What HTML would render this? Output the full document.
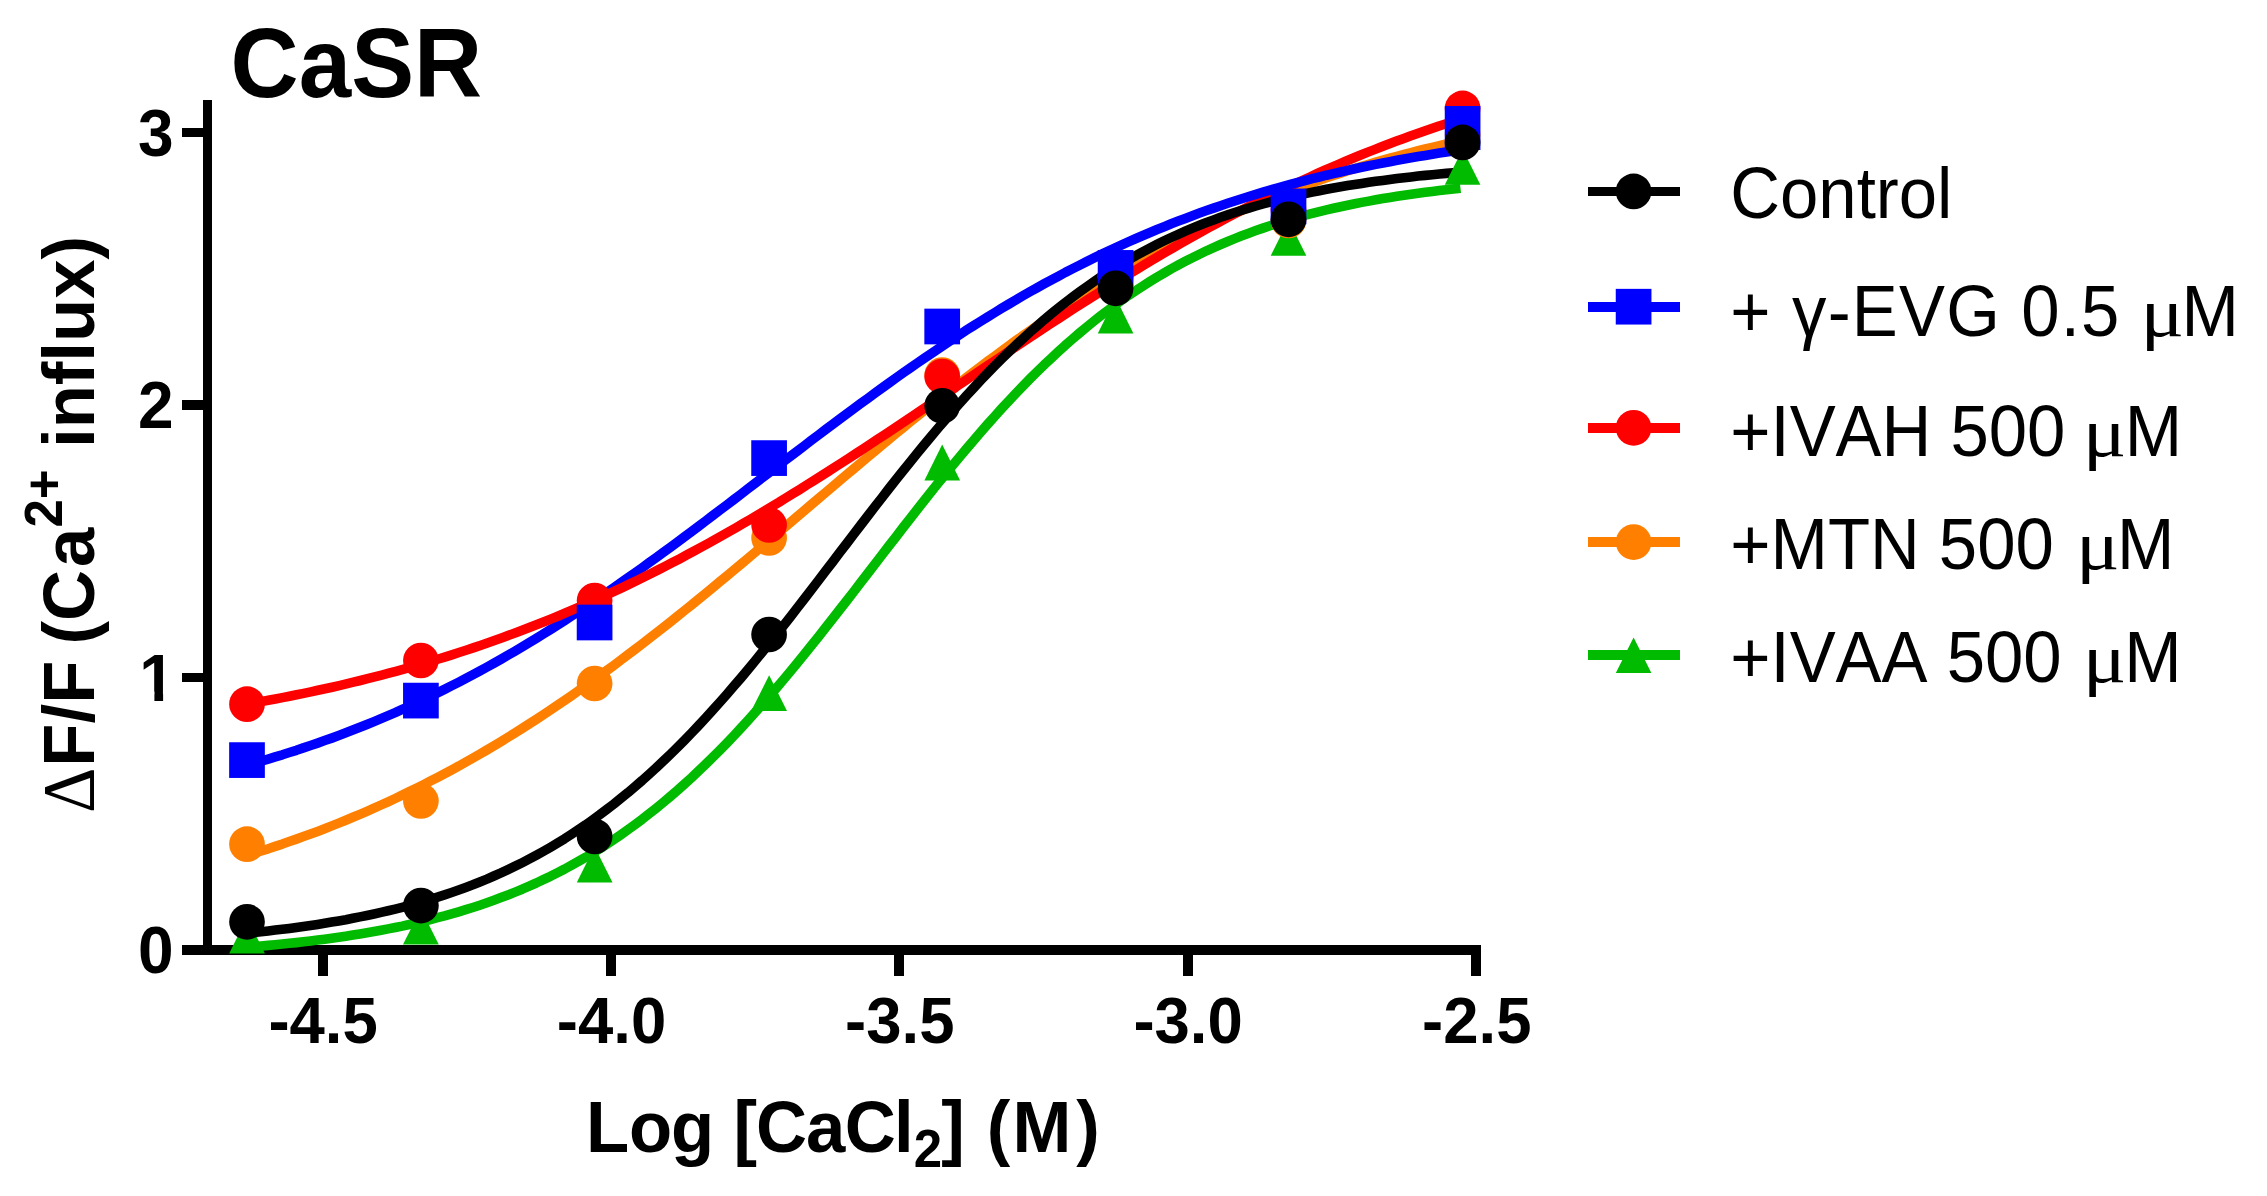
<!DOCTYPE html>
<html lang="en"><head><meta charset="utf-8"><title>CaSR</title>
<style>html,body{margin:0;padding:0;background:#fff}body{width:2267px;height:1196px;overflow:hidden}svg{display:block}</style>
</head><body>
<svg width="2267" height="1196" viewBox="0 0 2267 1196">
<rect width="2267" height="1196" fill="#fff"/>
<g fill="#000" shape-rendering="crispEdges">
<rect x="203" y="100" width="9.4" height="855"/>
<rect x="182" y="945" width="1299" height="10"/>
<rect x="182" y="127.9" width="22" height="9.4"/>
<rect x="182" y="400.4" width="22" height="9.4"/>
<rect x="182" y="672.8" width="22" height="9.4"/>
<rect x="317.7" y="950" width="9.8" height="26"/>
<rect x="606.1" y="950" width="9.8" height="26"/>
<rect x="894.4" y="950" width="9.8" height="26"/>
<rect x="1182.7" y="950" width="9.8" height="26"/>
<rect x="1471.4" y="950" width="9.8" height="26"/>
</g>
<g fill="none" stroke-width="9.6" stroke-linejoin="round">
<path stroke="#00bb00" d="M247.0,947.2 L254.1,946.6 L261.1,946.0 L268.2,945.4 L275.2,944.7 L282.3,944.0 L289.3,943.3 L296.4,942.6 L303.4,941.8 L310.5,940.9 L317.6,940.1 L324.6,939.2 L331.7,938.2 L338.7,937.2 L345.8,936.2 L352.8,935.1 L359.9,934.0 L366.9,932.8 L374.0,931.6 L381.0,930.3 L388.1,928.9 L395.2,927.5 L402.2,926.1 L409.3,924.5 L416.3,922.9 L423.4,921.3 L430.4,919.5 L437.5,917.7 L444.5,915.9 L451.6,913.9 L458.7,911.8 L465.7,909.7 L472.8,907.5 L479.8,905.2 L486.9,902.8 L493.9,900.3 L501.0,897.6 L508.0,894.9 L515.1,892.1 L522.2,889.2 L529.2,886.1 L536.3,883.0 L543.3,879.7 L550.4,876.3 L557.4,872.7 L564.5,869.1 L571.5,865.3 L578.6,861.3 L585.7,857.3 L592.7,853.0 L599.8,848.7 L606.8,844.2 L613.9,839.5 L620.9,834.7 L628.0,829.7 L635.0,824.6 L642.1,819.3 L649.1,813.8 L656.2,808.2 L663.3,802.4 L670.3,796.5 L677.4,790.4 L684.4,784.1 L691.5,777.7 L698.5,771.1 L705.6,764.3 L712.6,757.4 L719.7,750.3 L726.8,743.1 L733.8,735.7 L740.9,728.1 L747.9,720.4 L755.0,712.6 L762.0,704.7 L769.1,696.6 L776.1,688.3 L783.2,680.0 L790.3,671.5 L797.3,663.0 L804.4,654.3 L811.4,645.5 L818.5,636.7 L825.5,627.8 L832.6,618.8 L839.6,609.8 L846.7,600.7 L853.8,591.6 L860.8,582.4 L867.9,573.3 L874.9,564.1 L882.0,554.9 L889.0,545.8 L896.1,536.7 L903.1,527.5 L910.2,518.5 L917.2,509.5 L924.3,500.5 L931.4,491.6 L938.4,482.8 L945.5,474.1 L952.5,465.5 L959.6,457.0 L966.6,448.6 L973.7,440.3 L980.7,432.1 L987.8,424.0 L994.9,416.1 L1001.9,408.3 L1009.0,400.7 L1016.0,393.2 L1023.1,385.9 L1030.1,378.7 L1037.2,371.7 L1044.2,364.8 L1051.3,358.2 L1058.4,351.6 L1065.4,345.2 L1072.5,339.0 L1079.5,333.0 L1086.6,327.1 L1093.6,321.4 L1100.7,315.8 L1107.7,310.5 L1114.8,305.2 L1121.8,300.2 L1128.9,295.2 L1136.0,290.5 L1143.0,285.9 L1150.1,281.4 L1157.1,277.1 L1164.2,273.0 L1171.2,268.9 L1178.3,265.0 L1185.3,261.3 L1192.4,257.7 L1199.5,254.2 L1206.5,250.8 L1213.6,247.6 L1220.6,244.5 L1227.7,241.5 L1234.7,238.6 L1241.8,235.8 L1248.8,233.2 L1255.9,230.6 L1263.0,228.1 L1270.0,225.8 L1277.1,223.5 L1284.1,221.3 L1291.2,219.2 L1298.2,217.2 L1305.3,215.2 L1312.3,213.4 L1319.4,211.6 L1326.5,209.9 L1333.5,208.3 L1340.6,206.7 L1347.6,205.2 L1354.7,203.8 L1361.7,202.4 L1368.8,201.1 L1375.8,199.8 L1382.9,198.6 L1389.9,197.4 L1397.0,196.3 L1404.1,195.2 L1411.1,194.2 L1418.2,193.3 L1425.2,192.3 L1432.3,191.4 L1439.3,190.6 L1446.4,189.8 L1453.4,189.0 L1460.5,188.2"/>
<path stroke="#ff8000" d="M247.0,855.4 L254.1,853.3 L261.1,851.0 L268.2,848.8 L275.2,846.4 L282.3,844.1 L289.3,841.6 L296.4,839.1 L303.4,836.6 L310.5,834.0 L317.6,831.4 L324.6,828.7 L331.7,825.9 L338.7,823.1 L345.8,820.2 L352.8,817.3 L359.9,814.3 L366.9,811.3 L374.0,808.2 L381.0,805.0 L388.1,801.8 L395.2,798.5 L402.2,795.1 L409.3,791.7 L416.3,788.2 L423.4,784.7 L430.4,781.1 L437.5,777.4 L444.5,773.7 L451.6,769.9 L458.7,766.1 L465.7,762.1 L472.8,758.1 L479.8,754.1 L486.9,750.0 L493.9,745.8 L501.0,741.6 L508.0,737.2 L515.1,732.9 L522.2,728.4 L529.2,723.9 L536.3,719.4 L543.3,714.8 L550.4,710.1 L557.4,705.3 L564.5,700.5 L571.5,695.7 L578.6,690.7 L585.7,685.8 L592.7,680.7 L599.8,675.6 L606.8,670.5 L613.9,665.3 L620.9,660.0 L628.0,654.7 L635.0,649.4 L642.1,644.0 L649.1,638.5 L656.2,633.0 L663.3,627.5 L670.3,621.9 L677.4,616.3 L684.4,610.6 L691.5,605.0 L698.5,599.2 L705.6,593.5 L712.6,587.7 L719.7,581.8 L726.8,576.0 L733.8,570.1 L740.9,564.2 L747.9,558.3 L755.0,552.4 L762.0,546.4 L769.1,540.5 L776.1,534.5 L783.2,528.5 L790.3,522.5 L797.3,516.5 L804.4,510.5 L811.4,504.5 L818.5,498.5 L825.5,492.6 L832.6,486.6 L839.6,480.6 L846.7,474.6 L853.8,468.7 L860.8,462.8 L867.9,456.9 L874.9,451.0 L882.0,445.1 L889.0,439.3 L896.1,433.4 L903.1,427.7 L910.2,421.9 L917.2,416.2 L924.3,410.5 L931.4,404.9 L938.4,399.2 L945.5,393.7 L952.5,388.1 L959.6,382.7 L966.6,377.2 L973.7,371.8 L980.7,366.5 L987.8,361.2 L994.9,356.0 L1001.9,350.8 L1009.0,345.6 L1016.0,340.5 L1023.1,335.5 L1030.1,330.6 L1037.2,325.6 L1044.2,320.8 L1051.3,316.0 L1058.4,311.3 L1065.4,306.6 L1072.5,302.0 L1079.5,297.4 L1086.6,293.0 L1093.6,288.5 L1100.7,284.2 L1107.7,279.9 L1114.8,275.7 L1121.8,271.5 L1128.9,267.4 L1136.0,263.4 L1143.0,259.4 L1150.1,255.5 L1157.1,251.6 L1164.2,247.8 L1171.2,244.1 L1178.3,240.5 L1185.3,236.9 L1192.4,233.4 L1199.5,229.9 L1206.5,226.5 L1213.6,223.2 L1220.6,219.9 L1227.7,216.7 L1234.7,213.5 L1241.8,210.4 L1248.8,207.4 L1255.9,204.4 L1263.0,201.5 L1270.0,198.6 L1277.1,195.8 L1284.1,193.1 L1291.2,190.4 L1298.2,187.8 L1305.3,185.2 L1312.3,182.7 L1319.4,180.2 L1326.5,177.8 L1333.5,175.4 L1340.6,173.1 L1347.6,170.8 L1354.7,168.6 L1361.7,166.4 L1368.8,164.3 L1375.8,162.2 L1382.9,160.2 L1389.9,158.2 L1397.0,156.3 L1404.1,154.4 L1411.1,152.6 L1418.2,150.7 L1425.2,149.0 L1432.3,147.3 L1439.3,145.6 L1446.4,143.9 L1453.4,142.3 L1460.5,140.8"/>
<path stroke="#ff0000" d="M944.0,395.0 L951.2,390.1 L958.3,385.3 L965.5,380.5 L972.7,375.6 L979.9,370.8 L987.0,366.0 L994.2,361.2 L1001.4,356.4 L1008.6,351.6 L1015.7,346.8 L1022.9,342.0 L1030.1,337.3 L1037.3,332.5 L1044.4,327.8 L1051.6,323.1 L1058.8,318.4 L1066.0,313.8 L1073.1,309.1 L1080.3,304.5 L1087.5,299.9 L1094.6,295.4 L1101.8,290.9 L1109.0,286.4 L1116.2,281.9 L1123.3,277.5 L1130.5,273.1 L1137.7,268.8 L1144.9,264.4 L1152.0,260.2 L1159.2,255.9 L1166.4,251.7 L1173.6,247.5 L1180.7,243.4 L1187.9,239.3 L1195.1,235.3 L1202.2,231.3 L1209.4,227.4 L1216.6,223.5 L1223.8,219.6 L1230.9,215.8 L1238.1,212.0 L1245.3,208.3 L1252.5,204.6 L1259.6,201.0 L1266.8,197.4 L1274.0,193.9 L1281.2,190.4 L1288.3,187.0 L1295.5,183.6 L1302.7,180.3 L1309.9,177.0 L1317.0,173.7 L1324.2,170.5 L1331.4,167.4 L1338.5,164.3 L1345.7,161.3 L1352.9,158.3 L1360.1,155.3 L1367.2,152.4 L1374.4,149.6 L1381.6,146.8 L1388.8,144.0 L1395.9,141.3 L1403.1,138.7 L1410.3,136.0 L1417.5,133.5 L1424.6,131.0 L1431.8,128.5 L1439.0,126.0 L1446.2,123.7 L1453.3,121.3 L1460.5,119.0"/>
<path stroke="#0000ff" d="M247.0,765.2 L254.1,763.2 L261.1,761.2 L268.2,759.1 L275.2,756.9 L282.3,754.8 L289.3,752.5 L296.4,750.3 L303.4,747.9 L310.5,745.5 L317.6,743.1 L324.6,740.6 L331.7,738.1 L338.7,735.5 L345.8,732.8 L352.8,730.1 L359.9,727.3 L366.9,724.5 L374.0,721.6 L381.0,718.6 L388.1,715.6 L395.2,712.6 L402.2,709.4 L409.3,706.3 L416.3,703.0 L423.4,699.7 L430.4,696.3 L437.5,692.9 L444.5,689.4 L451.6,685.8 L458.7,682.2 L465.7,678.5 L472.8,674.8 L479.8,671.0 L486.9,667.1 L493.9,663.2 L501.0,659.2 L508.0,655.2 L515.1,651.1 L522.2,646.9 L529.2,642.7 L536.3,638.4 L543.3,634.0 L550.4,629.6 L557.4,625.2 L564.5,620.7 L571.5,616.1 L578.6,611.5 L585.7,606.8 L592.7,602.1 L599.8,597.3 L606.8,592.5 L613.9,587.6 L620.9,582.7 L628.0,577.8 L635.0,572.8 L642.1,567.8 L649.1,562.7 L656.2,557.6 L663.3,552.4 L670.3,547.3 L677.4,542.1 L684.4,536.8 L691.5,531.6 L698.5,526.3 L705.6,521.0 L712.6,515.7 L719.7,510.3 L726.8,505.0 L733.8,499.6 L740.9,494.2 L747.9,488.8 L755.0,483.4 L762.0,478.0 L769.1,472.6 L776.1,467.2 L783.2,461.8 L790.3,456.4 L797.3,451.1 L804.4,445.7 L811.4,440.3 L818.5,435.0 L825.5,429.7 L832.6,424.4 L839.6,419.1 L846.7,413.8 L853.8,408.6 L860.8,403.4 L867.9,398.3 L874.9,393.1 L882.0,388.0 L889.0,383.0 L896.1,377.9 L903.1,372.9 L910.2,368.0 L917.2,363.1 L924.3,358.2 L931.4,353.4 L938.4,348.7 L945.5,344.0 L952.5,339.3 L959.6,334.7 L966.6,330.1 L973.7,325.6 L980.7,321.2 L987.8,316.8 L994.9,312.5 L1001.9,308.2 L1009.0,304.0 L1016.0,299.8 L1023.1,295.7 L1030.1,291.7 L1037.2,287.7 L1044.2,283.8 L1051.3,280.0 L1058.4,276.2 L1065.4,272.4 L1072.5,268.8 L1079.5,265.2 L1086.6,261.6 L1093.6,258.1 L1100.7,254.7 L1107.7,251.4 L1114.8,248.1 L1121.8,244.8 L1128.9,241.6 L1136.0,238.5 L1143.0,235.5 L1150.1,232.5 L1157.1,229.5 L1164.2,226.7 L1171.2,223.8 L1178.3,221.1 L1185.3,218.4 L1192.4,215.7 L1199.5,213.1 L1206.5,210.6 L1213.6,208.1 L1220.6,205.7 L1227.7,203.3 L1234.7,201.0 L1241.8,198.7 L1248.8,196.5 L1255.9,194.3 L1263.0,192.2 L1270.0,190.1 L1277.1,188.1 L1284.1,186.2 L1291.2,184.2 L1298.2,182.3 L1305.3,180.5 L1312.3,178.7 L1319.4,177.0 L1326.5,175.2 L1333.5,173.6 L1340.6,172.0 L1347.6,170.4 L1354.7,168.8 L1361.7,167.3 L1368.8,165.8 L1375.8,164.4 L1382.9,163.0 L1389.9,161.7 L1397.0,160.3 L1404.1,159.0 L1411.1,157.8 L1418.2,156.6 L1425.2,155.4 L1432.3,154.2 L1439.3,153.1 L1446.4,152.0 L1453.4,150.9 L1460.5,149.8"/>
<path stroke="#ff0000" d="M247.0,704.2 L254.1,702.9 L261.2,701.6 L268.3,700.3 L275.4,699.0 L282.4,697.6 L289.5,696.2 L296.6,694.8 L303.7,693.4 L310.8,691.9 L317.9,690.3 L325.0,688.8 L332.1,687.2 L339.2,685.6 L346.3,683.9 L353.4,682.2 L360.4,680.5 L367.5,678.7 L374.6,676.9 L381.7,675.1 L388.8,673.2 L395.9,671.3 L403.0,669.4 L410.1,667.4 L417.2,665.3 L424.2,663.3 L431.3,661.1 L438.4,659.0 L445.5,656.8 L452.6,654.6 L459.7,652.3 L466.8,650.0 L473.9,647.6 L481.0,645.2 L488.1,642.7 L495.1,640.2 L502.2,637.7 L509.3,635.1 L516.4,632.5 L523.5,629.8 L530.6,627.0 L537.7,624.3 L544.8,621.5 L551.9,618.6 L559.0,615.7 L566.0,612.7 L573.1,609.7 L580.2,606.6 L587.3,603.5 L594.4,600.4 L601.5,597.2 L608.6,593.9 L615.7,590.6 L622.8,587.3 L629.9,583.9 L637.0,580.5 L644.0,577.0 L651.1,573.5 L658.2,569.9 L665.3,566.3 L672.4,562.6 L679.5,558.9 L686.6,555.1 L693.7,551.3 L700.8,547.4 L707.8,543.6 L714.9,539.6 L722.0,535.6 L729.1,531.6 L736.2,527.6 L743.3,523.4 L750.4,519.3 L757.5,515.1 L764.6,510.9 L771.7,506.6 L778.8,502.4 L785.8,498.0 L792.9,493.7 L800.0,489.3 L807.1,484.8 L814.2,480.4 L821.3,475.9 L828.4,471.4 L835.5,466.8 L842.6,462.3 L849.6,457.7 L856.7,453.1 L863.8,448.4 L870.9,443.8 L878.0,439.1 L885.1,434.4 L892.2,429.7 L899.3,425.0 L906.4,420.2 L913.5,415.5 L920.5,410.7 L927.6,406.0 L934.7,401.2 L941.8,396.4 L948.9,391.7 L956.0,386.9"/>
<path stroke="#000000" d="M247.0,933.1 L254.1,932.4 L261.1,931.7 L268.2,930.9 L275.2,930.1 L282.3,929.3 L289.3,928.4 L296.4,927.4 L303.4,926.5 L310.5,925.5 L317.6,924.4 L324.6,923.3 L331.7,922.1 L338.7,920.9 L345.8,919.7 L352.8,918.3 L359.9,916.9 L366.9,915.5 L374.0,914.0 L381.0,912.4 L388.1,910.8 L395.2,909.1 L402.2,907.3 L409.3,905.4 L416.3,903.5 L423.4,901.5 L430.4,899.4 L437.5,897.2 L444.5,894.9 L451.6,892.5 L458.7,890.0 L465.7,887.4 L472.8,884.8 L479.8,882.0 L486.9,879.1 L493.9,876.0 L501.0,872.9 L508.0,869.6 L515.1,866.2 L522.2,862.7 L529.2,859.1 L536.3,855.3 L543.3,851.4 L550.4,847.3 L557.4,843.1 L564.5,838.8 L571.5,834.3 L578.6,829.6 L585.7,824.8 L592.7,819.8 L599.8,814.7 L606.8,809.4 L613.9,804.0 L620.9,798.3 L628.0,792.6 L635.0,786.6 L642.1,780.5 L649.1,774.2 L656.2,767.8 L663.3,761.1 L670.3,754.4 L677.4,747.4 L684.4,740.3 L691.5,733.0 L698.5,725.6 L705.6,718.0 L712.6,710.3 L719.7,702.4 L726.8,694.4 L733.8,686.2 L740.9,678.0 L747.9,669.6 L755.0,661.0 L762.0,652.4 L769.1,643.7 L776.1,634.9 L783.2,626.0 L790.3,617.0 L797.3,607.9 L804.4,598.8 L811.4,589.6 L818.5,580.4 L825.5,571.2 L832.6,562.0 L839.6,552.7 L846.7,543.5 L853.8,534.2 L860.8,525.0 L867.9,515.8 L874.9,506.6 L882.0,497.6 L889.0,488.5 L896.1,479.6 L903.1,470.7 L910.2,461.9 L917.2,453.2 L924.3,444.6 L931.4,436.1 L938.4,427.7 L945.5,419.5 L952.5,411.4 L959.6,403.4 L966.6,395.5 L973.7,387.9 L980.7,380.3 L987.8,372.9 L994.9,365.7 L1001.9,358.7 L1009.0,351.8 L1016.0,345.0 L1023.1,338.4 L1030.1,332.0 L1037.2,325.8 L1044.2,319.7 L1051.3,313.8 L1058.4,308.1 L1065.4,302.5 L1072.5,297.1 L1079.5,291.9 L1086.6,286.8 L1093.6,281.9 L1100.7,277.1 L1107.7,272.5 L1114.8,268.0 L1121.8,263.7 L1128.9,259.6 L1136.0,255.5 L1143.0,251.7 L1150.1,247.9 L1157.1,244.3 L1164.2,240.8 L1171.2,237.5 L1178.3,234.3 L1185.3,231.2 L1192.4,228.2 L1199.5,225.3 L1206.5,222.5 L1213.6,219.9 L1220.6,217.3 L1227.7,214.9 L1234.7,212.5 L1241.8,210.2 L1248.8,208.1 L1255.9,206.0 L1263.0,204.0 L1270.0,202.1 L1277.1,200.2 L1284.1,198.5 L1291.2,196.8 L1298.2,195.2 L1305.3,193.6 L1312.3,192.1 L1319.4,190.7 L1326.5,189.3 L1333.5,188.0 L1340.6,186.8 L1347.6,185.6 L1354.7,184.5 L1361.7,183.4 L1368.8,182.3 L1375.8,181.3 L1382.9,180.4 L1389.9,179.4 L1397.0,178.6 L1404.1,177.7 L1411.1,176.9 L1418.2,176.1 L1425.2,175.4 L1432.3,174.7 L1439.3,174.0 L1446.4,173.4 L1453.4,172.8 L1460.5,172.2"/>
</g>
<g>
<path d="M247.0,917.6 L264.9,953.4 L229.2,953.4Z" fill="#00bb00"/>
<path d="M420.9,908.9 L438.8,944.6 L403.0,944.6Z" fill="#00bb00"/>
<path d="M594.6,846.8 L612.5,882.5 L576.8,882.5Z" fill="#00bb00"/>
<path d="M769.1,675.2 L787.0,711.0 L751.2,711.0Z" fill="#00bb00"/>
<path d="M942.2,444.6 L960.1,480.4 L924.4,480.4Z" fill="#00bb00"/>
<path d="M1115.6,297.6 L1133.4,333.4 L1097.8,333.4Z" fill="#00bb00"/>
<path d="M1288.5,220.0 L1306.3,255.7 L1270.7,255.7Z" fill="#00bb00"/>
<path d="M1462.6,149.2 L1480.4,184.8 L1444.8,184.8Z" fill="#00bb00"/>
<circle cx="247.0" cy="844.2" r="17.85" fill="#ff8000"/>
<circle cx="420.9" cy="801.0" r="17.85" fill="#ff8000"/>
<circle cx="594.6" cy="683.5" r="17.85" fill="#ff8000"/>
<circle cx="769.1" cy="538.0" r="17.85" fill="#ff8000"/>
<circle cx="942.2" cy="375.0" r="17.85" fill="#ff8000"/>
<circle cx="1115.6" cy="277.0" r="17.85" fill="#ff8000"/>
<circle cx="1288.5" cy="220.5" r="17.85" fill="#ff8000"/>
<circle cx="1462.6" cy="135.0" r="17.85" fill="#ff8000"/>
<circle cx="247.0" cy="704.2" r="17.85" fill="#ff0000"/>
<circle cx="420.9" cy="660.5" r="17.85" fill="#ff0000"/>
<circle cx="594.6" cy="600.5" r="17.85" fill="#ff0000"/>
<circle cx="769.1" cy="525.0" r="17.85" fill="#ff0000"/>
<circle cx="942.2" cy="376.5" r="17.85" fill="#ff0000"/>
<circle cx="1115.6" cy="275.0" r="17.85" fill="#ff0000"/>
<circle cx="1288.5" cy="210.0" r="17.85" fill="#ff0000"/>
<circle cx="1462.6" cy="108.4" r="17.85" fill="#ff0000"/>
<rect x="229.15" y="742.25" width="35.7" height="35.7" fill="#0000ff"/>
<rect x="403.05" y="682.75" width="35.7" height="35.7" fill="#0000ff"/>
<rect x="576.75" y="604.65" width="35.7" height="35.7" fill="#0000ff"/>
<rect x="751.25" y="440.25" width="35.7" height="35.7" fill="#0000ff"/>
<rect x="924.35" y="308.65" width="35.7" height="35.7" fill="#0000ff"/>
<rect x="1097.75" y="250.05" width="35.7" height="35.7" fill="#0000ff"/>
<rect x="1270.65" y="188.55" width="35.7" height="35.7" fill="#0000ff"/>
<rect x="1444.75" y="106" width="35.7" height="44" fill="#0000ff"/>
<circle cx="247.0" cy="921.8" r="17.85" fill="#000000"/>
<circle cx="420.9" cy="905.6" r="17.85" fill="#000000"/>
<circle cx="594.6" cy="836.4" r="17.85" fill="#000000"/>
<circle cx="769.1" cy="634.5" r="17.85" fill="#000000"/>
<circle cx="942.2" cy="405.8" r="17.85" fill="#000000"/>
<circle cx="1115.6" cy="288.3" r="17.85" fill="#000000"/>
<circle cx="1288.5" cy="219.3" r="17.85" fill="#000000"/>
<circle cx="1462.6" cy="142.4" r="17.85" fill="#000000"/>
</g>
<g>
<rect x="1588" y="186.6" width="92" height="9.6" fill="#000000" shape-rendering="crispEdges"/>
<circle cx="1633.6" cy="191.4" r="17.85" fill="#000000"/>
<rect x="1588" y="301.9" width="92" height="9.6" fill="#0000ff" shape-rendering="crispEdges"/>
<rect x="1615.75" y="288.85" width="35.7" height="35.7" fill="#0000ff"/>
<rect x="1588" y="423.0" width="92" height="9.6" fill="#ff0000" shape-rendering="crispEdges"/>
<circle cx="1633.6" cy="427.8" r="17.85" fill="#ff0000"/>
<rect x="1588" y="537.3" width="92" height="9.6" fill="#ff8000" shape-rendering="crispEdges"/>
<circle cx="1633.6" cy="542.1" r="17.85" fill="#ff8000"/>
<rect x="1588" y="650.4" width="92" height="9.6" fill="#00bb00" shape-rendering="crispEdges"/>
<path d="M1633.6,637.4 L1651.4,673.1 L1615.8,673.1Z" fill="#00bb00"/>
</g>
<g font-family="'Liberation Sans',Arial,sans-serif" fill="#000" style="font-kerning:none;font-variant-ligatures:none">
<text transform="translate(1730.3,218.3) scale(1,1.05)" font-size="68.9" font-weight="normal" text-anchor="start" xml:space="preserve">Control</text>
<text transform="translate(1730.3,335.8) scale(1,1.05)" font-size="68.9" font-weight="normal" text-anchor="start" xml:space="preserve" letter-spacing="1.2">+ γ-EVG 0.5 </text>
<text transform="translate(2140.5,335.8) scale(1.18,1)" font-family="'Liberation Serif','DejaVu Serif',serif" font-size="68.9" font-weight="normal">μ</text>
<text transform="translate(2181.4,335.8) scale(1,1.05)" font-size="68.9" font-weight="normal" text-anchor="start" xml:space="preserve">M</text>
<text transform="translate(1730.3,455.9) scale(1,1.05)" font-size="68.9" font-weight="normal" text-anchor="start" xml:space="preserve">+IVAH 500 </text>
<text transform="translate(2082.8,455.9) scale(1.18,1)" font-family="'Liberation Serif','DejaVu Serif',serif" font-size="68.9" font-weight="normal">μ</text>
<text transform="translate(2124.7,455.9) scale(1,1.05)" font-size="68.9" font-weight="normal" text-anchor="start" xml:space="preserve">M</text>
<text transform="translate(1730.3,568.8) scale(1,1.05)" font-size="68.9" font-weight="normal" text-anchor="start" xml:space="preserve">+MTN 500 </text>
<text transform="translate(2076.0,568.8) scale(1.18,1)" font-family="'Liberation Serif','DejaVu Serif',serif" font-size="68.9" font-weight="normal">μ</text>
<text transform="translate(2117.1,568.8) scale(1,1.05)" font-size="68.9" font-weight="normal" text-anchor="start" xml:space="preserve">M</text>
<text transform="translate(1730.3,682.0) scale(1,1.05)" font-size="68.9" font-weight="normal" text-anchor="start" xml:space="preserve">+IVAA 500 </text>
<text transform="translate(2082.7,682.0) scale(1.18,1)" font-family="'Liberation Serif','DejaVu Serif',serif" font-size="68.9" font-weight="normal">μ</text>
<text transform="translate(2124.3,682.0) scale(1,1.05)" font-size="68.9" font-weight="normal" text-anchor="start" xml:space="preserve">M</text>
<text transform="translate(230.6,97.1) scale(1,1.035)" font-size="94.3" font-weight="bold" text-anchor="start" xml:space="preserve">CaSR</text>
<text transform="translate(173.5,155.9) scale(1,1.035)" font-size="64" font-weight="bold" text-anchor="end" xml:space="preserve">3</text>
<text transform="translate(173.5,428.4) scale(1,1.035)" font-size="64" font-weight="bold" text-anchor="end" xml:space="preserve">2</text>
<text transform="translate(174.9,700.8) scale(1,1.035)" font-size="64" font-weight="bold" text-anchor="end" xml:space="preserve">1</text>
<text transform="translate(173.5,973.3) scale(1,1.035)" font-size="64" font-weight="bold" text-anchor="end" xml:space="preserve">0</text>
<rect x="139" y="691.5" width="15.4" height="12" fill="#fff"/><rect x="163.1" y="691.5" width="12" height="12" fill="#fff"/>
<text transform="translate(323.1,1042.6) scale(1,1.035)" font-size="63.5" font-weight="bold" text-anchor="middle" xml:space="preserve">-4.5</text>
<text transform="translate(611.5,1042.6) scale(1,1.035)" font-size="63.5" font-weight="bold" text-anchor="middle" xml:space="preserve">-4.0</text>
<text transform="translate(899.8,1042.6) scale(1,1.035)" font-size="63.5" font-weight="bold" text-anchor="middle" xml:space="preserve">-3.5</text>
<text transform="translate(1188.1,1042.6) scale(1,1.035)" font-size="63.5" font-weight="bold" text-anchor="middle" xml:space="preserve">-3.0</text>
<text transform="translate(1476.8,1042.6) scale(1,1.035)" font-size="63.5" font-weight="bold" text-anchor="middle" xml:space="preserve">-2.5</text>
<text transform="translate(585.9,1151.6) scale(1,1.035)" font-size="70.7" font-weight="bold" text-anchor="start" xml:space="preserve">Lo<tspan dx="-1.2">g</tspan> <tspan dx="-0.3">[</tspan><tspan dx="-1.1">C</tspan><tspan dx="-1.0">a</tspan><tspan dx="-0.6">C</tspan><tspan dx="-1.8">l</tspan><tspan font-size="51" dy="15.2">2</tspan><tspan dy="-15.2" dx="-0.9">]</tspan><tspan dx="2.4"> </tspan>(<tspan dx="2.1">M</tspan><tspan dx="4.8">)</tspan></text>
<text transform="translate(93.7,813.1) rotate(-90) scale(1,1.035)" font-size="70.7" font-weight="bold" text-anchor="start" xml:space="preserve"><tspan font-family="'Liberation Serif','DejaVu Serif',serif" font-weight="normal">Δ</tspan><tspan dx="1">F/F</tspan><tspan dx="-3.5"> (C</tspan><tspan dx="3">a</tspan><tspan font-size="51" dy="-30.4">2+</tspan><tspan dy="30.4" dx="1.8"> influx)</tspan></text>
</g>
</svg>
</body></html>
